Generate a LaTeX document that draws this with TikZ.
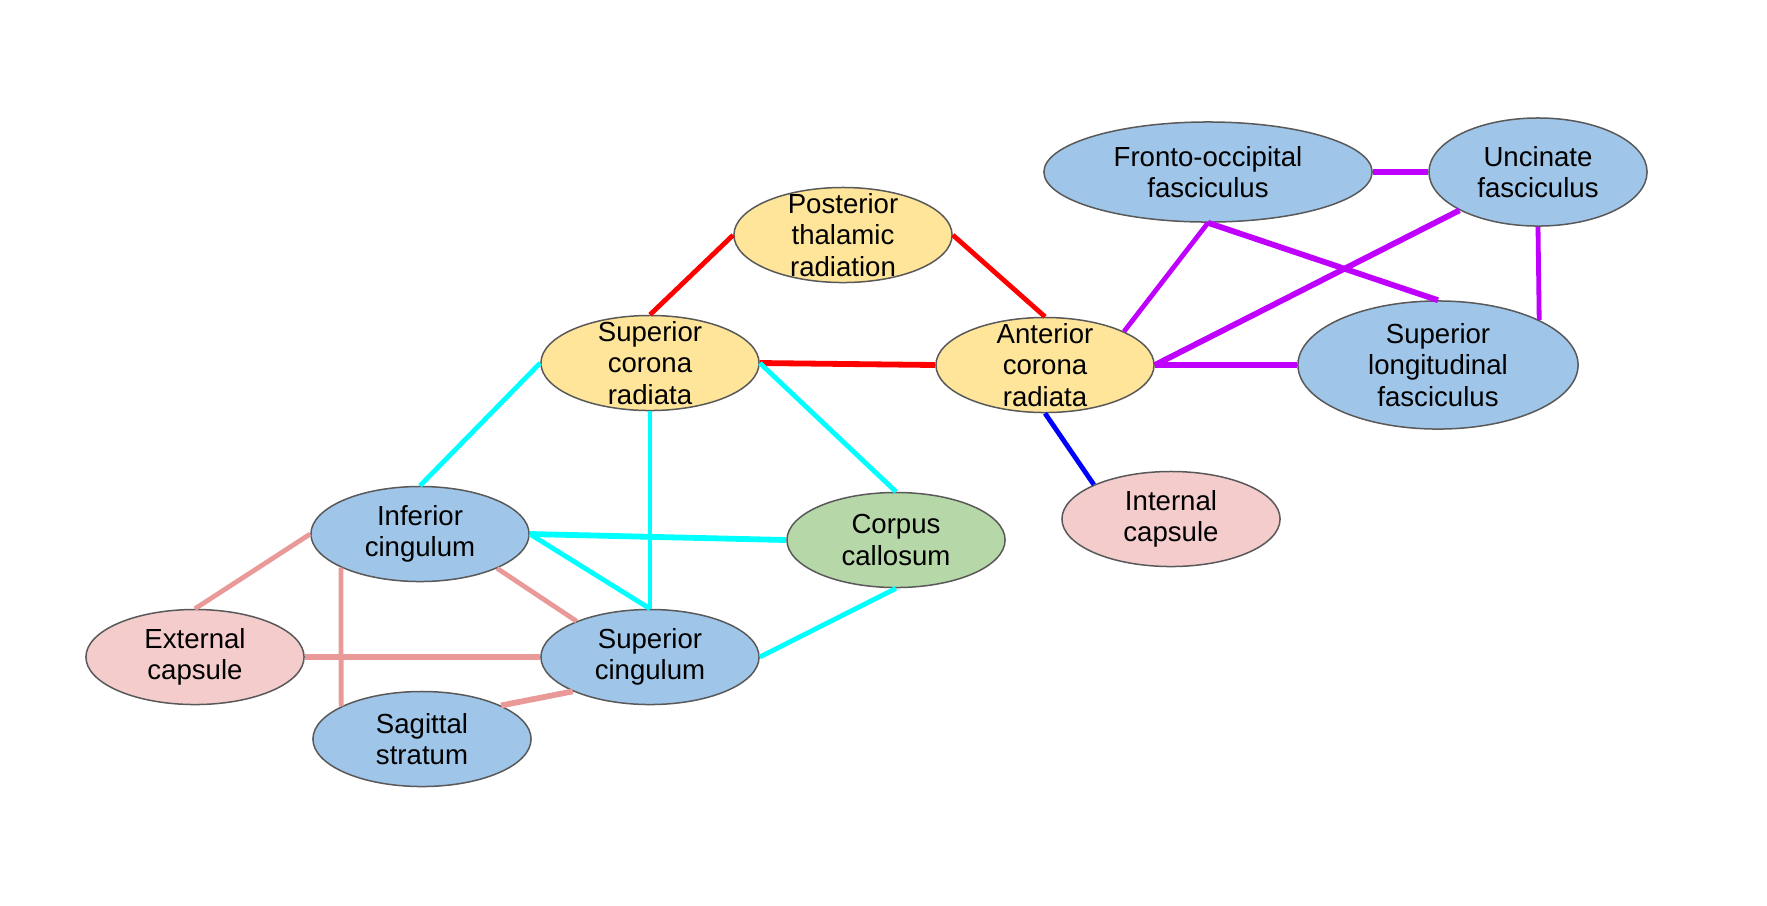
\documentclass[tikz,border=0pt]{standalone}
\usepackage{fontspec}
\setmainfont{Liberation Sans}
\usetikzlibrary{shapes.geometric}
\definecolor{yel}{HTML}{FFE599}
\definecolor{blu}{HTML}{9FC5E8}
\definecolor{pnk}{HTML}{F4CCCC}
\definecolor{grn}{HTML}{B6D7A8}
\definecolor{bord}{HTML}{595959}
\definecolor{purp}{HTML}{BF00FF}
\definecolor{rose}{HTML}{EA9999}
\definecolor{aqua}{HTML}{00FFFF}
\definecolor{pred}{HTML}{FF0000}
\definecolor{pblue}{HTML}{0000FF}
\begin{document}
\begin{tikzpicture}[x=0.01cm,y=-0.01cm,
  txt/.style={align=center,inner sep=0pt,font=\fontsize{7.85pt}{9pt}\selectfont},
  el/.style={ellipse,draw=bord,line width=0.15mm,inner sep=0pt,txt,
    minimum width=2.18cm,minimum height=0.95cm},
  yb/.style={el,fill=yel},
  bb/.style={el,fill=blu},
  pb/.style={el,fill=pnk},
  gb/.style={el,fill=grn},
  ln/.style={line width=0.48mm},
  lnt/.style={line width=0.58mm},
  redl/.style={draw=pred},
  cyl/.style={draw=aqua},
  pul/.style={draw=purp},
  rol/.style={draw=rose},
  bll/.style={draw=pblue}]
\useasboundingbox (0,0) rectangle (1767,905);
% nodes
\node[yb,label={[txt]center:Posterior\\thalamic\\radiation}] (ptr) at (843,235) {};
\node[yb,label={[txt]center:Superior\\corona\\radiata}] (scr) at (650,363) {};
\node[yb,label={[txt]center:Anterior\\corona\\radiata}] (acr) at (1045,365) {};
\node[bb,minimum width=3.28cm,minimum height=1.0cm] (fof) at (1208,172) {Fronto-occipital\\fasciculus};
\node[bb,minimum height=1.08cm] (uf) at (1538,172) {Uncinate\\fasciculus};
\node[bb,minimum width=2.8cm,minimum height=1.28cm] (slf) at (1438,365) {Superior\\longitudinal\\fasciculus};
\node[pb] (ic) at (1171,519) {Internal\\capsule};
\node[bb] (inf) at (420,534) {Inferior\\cingulum};
\node[gb] (cc) at (896,540) {Corpus\\callosum};
\node[pb] (ext) at (195,657) {External\\capsule};
\node[bb] (sup) at (650,657) {Superior\\cingulum};
\node[bb] (sag) at (422,739) {Sagittal\\stratum};
% red connectors
\draw[ln,redl] (ptr.west) -- (scr.north);
\draw[ln,redl] (ptr.east) -- (acr.north);
\draw[lnt,redl] (scr.east) -- (acr.west);
% cyan connectors
\draw[ln,cyl] (scr.west) -- (inf.north);
\draw[ln,cyl] (scr.south) -- (sup.north);
\draw[ln,cyl] (scr.east) -- (cc.north);
\draw[lnt,cyl] (inf.east) -- (cc.west);
\draw[ln,cyl] (inf.east) -- (sup.north);
\draw[ln,cyl] (cc.south) -- (sup.east);
% rose connectors
\draw[ln,rol] (inf.west) -- (ext.north);
\draw[ln,rol] (inf.203) -- (sag.158);
\draw[ln,rol] (inf.-24) -- (sup.154);
\draw[lnt,rol] (ext.east) -- (sup.west);
\draw[lnt,rol] (sag.23) -- (sup.204);
% blue connector
\draw[ln,bll] (acr.south) -- (ic.156);
% purple connectors
\draw[ln,pul] (acr.23) -- (fof.south);
\draw[lnt,pul] (acr.east) -- (uf.206);
\draw[lnt,pul] (fof.south) -- (slf.north);
\draw[lnt,pul] (fof.east) -- (uf.west);
\draw[ln,pul] (uf.south) -- (slf.24);
\draw[lnt,pul] (acr.east) -- (slf.west);
\end{tikzpicture}
\end{document}
